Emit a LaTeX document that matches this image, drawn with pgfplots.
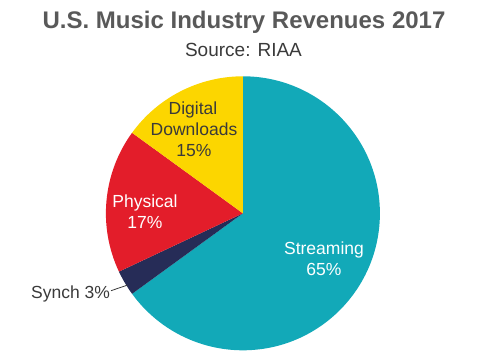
\documentclass[border=0pt]{standalone}
\usepackage{pgfplots}
\usepackage{pgfplotstable}
\pgfplotsset{compat=1.18}
\usepackage{fontspec}
\setmainfont{Liberation Sans}
\definecolor{cStream}{HTML}{12A9B8}
\definecolor{cSynch}{HTML}{262C57}
\definecolor{cPhys}{HTML}{E31D2A}
\definecolor{cDigi}{HTML}{FCD600}
\definecolor{titlegray}{HTML}{595959}
\definecolor{textgray}{HTML}{3A3A3A}
\pgfplotstableread{
label share color
Streaming 65 cStream
Synch 3 cSynch
Physical 17 cPhys
Digital 15 cDigi
}\pie
\pgfplotstablecreatecol[create col/expr accum={\pgfmathaccuma + \thisrow{share}}{0}]{cum}\pie
\begin{document}
\begin{tikzpicture}
\useasboundingbox (0,0) rectangle (484pt,359pt);
\begin{axis}[
  at={(0,0)}, anchor=south west,
  width=484pt, height=359pt, scale only axis,
  xmin=0, xmax=484, ymin=0, ymax=359,
  hide axis, clip=false]
\pgfplotsinvokeforeach{0,...,3}{%
  \pgfplotstablegetelem{#1}{share}\of\pie \edef\S{\pgfplotsretval}%
  \pgfplotstablegetelem{#1}{cum}\of\pie \edef\Cu{\pgfplotsretval}%
  \pgfplotstablegetelem{#1}{color}\of\pie \edef\Col{\pgfplotsretval}%
  \pgfmathsetmacro\A{90-3.6*(\Cu-\S)}%
  \pgfmathsetmacro\B{90-3.6*\Cu}%
  \edef\tmp{\noexpand\fill[\Col] (axis cs:242.9,145.7) -- ++(\A:137pt) arc[start angle=\A, end angle=\B, radius=137pt] -- cycle;}%
  \tmp
}
\draw[textgray, line width=0.8pt] (axis cs:111,68.3) -- (axis cs:127.7,74);
\end{axis}
\node[anchor=base, inner sep=0pt, text=titlegray, font=\fontsize{24}{28}\selectfont\bfseries] at (244pt,330.7pt) {U.S. Music Industry Revenues 2017};
\node[anchor=base, inner sep=0pt, text=textgray, font=\fontsize{19}{22}\selectfont] at (243.5pt,302.5pt) {Source: RIAA};
\begin{scope}[every node/.style={anchor=base, inner sep=0pt, font=\fontsize{17.5}{21}\selectfont}]
\node[text=white] at (324pt,105pt) {Streaming};
\node[text=white] at (324pt,84pt) {65\%};
\node[text=white] at (145pt,152pt) {Physical};
\node[text=white] at (145pt,131pt) {17\%};
\node[text=textgray] at (193pt,244pt) {Digital};
\node[text=textgray] at (194pt,223pt) {Downloads};
\node[text=textgray] at (194pt,202pt) {15\%};
\node[text=textgray, anchor=base west] at (31pt,60.7pt) {Synch 3\%};
\end{scope}
\end{tikzpicture}
\end{document}
